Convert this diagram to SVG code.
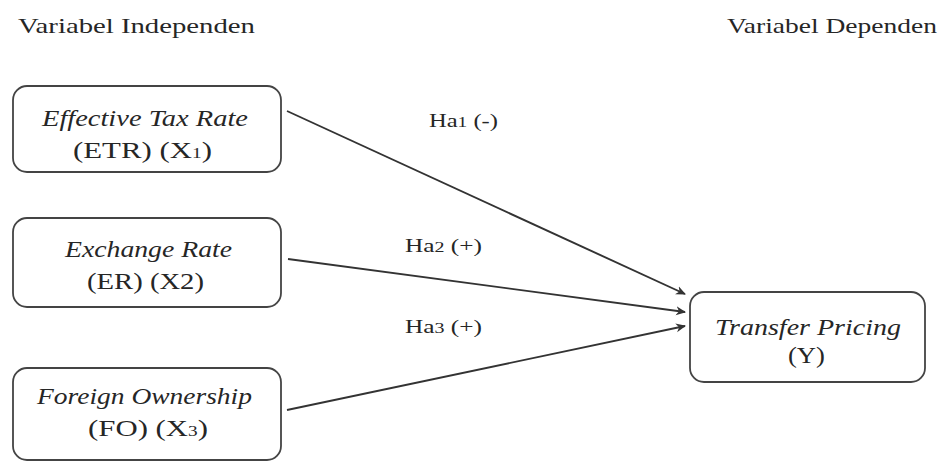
<svg xmlns="http://www.w3.org/2000/svg" width="946" height="464" viewBox="0 0 946 464">
<style>
text{font-family:"Liberation Serif","Times New Roman",serif;fill:#262626;}
.t{font-size:22px;}
.n{font-size:24px;}
.i{font-style:italic;}
.l{font-size:19px;}
.s{font-size:15px;}
.box{fill:#fff;stroke:#444;stroke-width:1.8;}
.c{stroke:#333;stroke-width:1.9;fill:none;marker-end:url(#a);}
</style>
<defs>
<marker id="a" viewBox="0 0 10 10" refX="9" refY="5" markerWidth="10" markerHeight="10" orient="auto" markerUnits="userSpaceOnUse">
<path d="M0,0.5 L10,5 L0,9.5 L3,5 z" fill="#333"/>
</marker>
</defs>
<rect width="946" height="464" fill="#fff"/>
<text class="t" x="18" y="33" textLength="237" lengthAdjust="spacingAndGlyphs">Variabel Independen</text>
<text class="t" x="727" y="33" textLength="210" lengthAdjust="spacingAndGlyphs">Variabel Dependen</text>
<g id="etr">
<rect class="box" x="13" y="86" width="268" height="86" rx="14"/>
<text class="n i" x="42" y="126" textLength="206" lengthAdjust="spacingAndGlyphs">Effective Tax Rate</text>
<text class="n" x="73" y="158" textLength="139" lengthAdjust="spacingAndGlyphs">(ETR) (X<tspan class="s">1</tspan>)</text>
</g>
<g id="er">
<rect class="box" x="13" y="218" width="268" height="89" rx="14"/>
<text class="n i" x="65" y="257" textLength="167" lengthAdjust="spacingAndGlyphs">Exchange Rate</text>
<text class="n" x="87" y="289" textLength="117" lengthAdjust="spacingAndGlyphs">(ER) (X2)</text>
</g>
<g id="fo">
<rect class="box" x="13" y="368" width="268" height="92" rx="14"/>
<text class="n i" x="37" y="404" textLength="215" lengthAdjust="spacingAndGlyphs">Foreign Ownership</text>
<text class="n" x="88" y="436" textLength="120" lengthAdjust="spacingAndGlyphs">(FO) (X<tspan class="s">3</tspan>)</text>
</g>
<g id="tp">
<rect class="box" x="690" y="292" width="235" height="90" rx="14"/>
<text class="n i" x="715" y="335" textLength="186" lengthAdjust="spacingAndGlyphs">Transfer Pricing</text>
<text class="n" x="788" y="363" textLength="37" lengthAdjust="spacingAndGlyphs">(Y)</text>
</g>
<g id="connectors">
<line class="c" x1="287" y1="111" x2="685" y2="294"/>
<line class="c" x1="288" y1="259" x2="685" y2="312"/>
<line class="c" x1="287" y1="410" x2="685" y2="326"/>
</g>
<g id="labels">
<text class="l" x="429" y="127" textLength="69" lengthAdjust="spacingAndGlyphs">Ha<tspan class="s">1</tspan> (-)</text>
<text class="l" x="405" y="252" textLength="77" lengthAdjust="spacingAndGlyphs">Ha<tspan class="s">2</tspan> (+)</text>
<text class="l" x="405" y="333" textLength="77" lengthAdjust="spacingAndGlyphs">Ha<tspan class="s">3</tspan> (+)</text>
</g>
</svg>
